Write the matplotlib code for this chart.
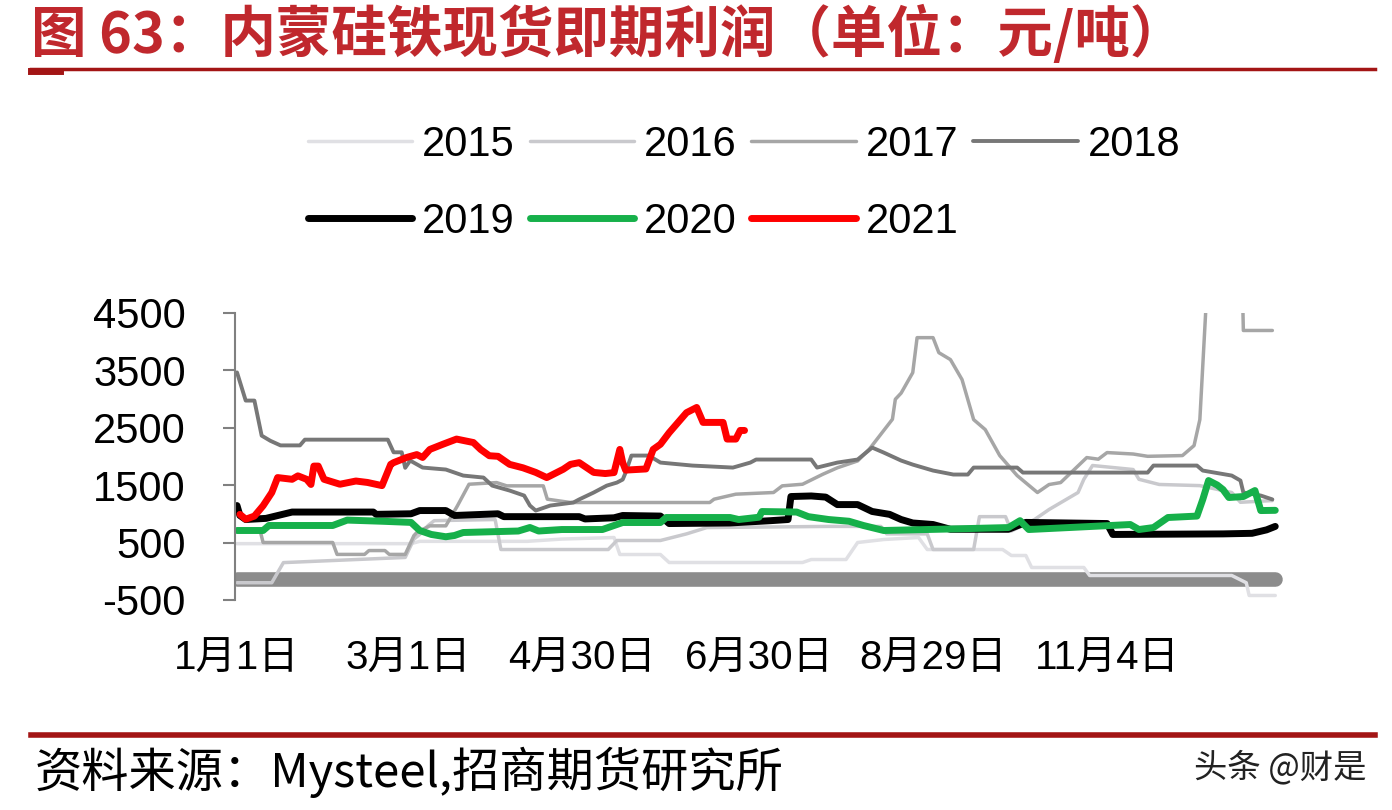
import matplotlib
matplotlib.use('Agg')
import matplotlib.pyplot as plt
from matplotlib.lines import Line2D

plt.rcParams['font.family'] = ['Liberation Sans', 'Noto Sans CJK SC', 'DejaVu Sans']
plt.rcParams['axes.unicode_minus'] = False

# day-of-year positions (0 = 1月1日) and profit values
d15 = [0, 60, 63, 100, 112, 130, 132, 146, 149, 195, 198, 210, 214, 223, 235, 238, 264, 267, 272, 274, 292, 294, 343, 348, 349, 358]
v15 = [480, 480, 520, 520, 560, 587, 291, 291, 152, 152, 204, 204, 500, 552, 587, 378, 378, 274, 274, 65, 65, -74, -74, -200, -422, -422]

d16 = [0, 12, 16, 30, 58, 61, 63, 66, 68, 89, 91, 128, 131, 146, 155, 162, 204, 222, 224, 238, 240, 254, 256, 265, 267,
       275, 280, 290, 292, 295, 309, 311, 318, 332, 343, 346, 357]
v16 = [-200, -200, 150, 180, 240, 560, 640, 800, 880, 900, 378, 378, 535, 535, 650, 760, 780, 780, 650, 650, 378, 378, 950, 950, 700,
       900, 1074, 1370, 1600, 1840, 1770, 1600, 1510, 1490, 1370, 1200, 1230]

d17 = [0, 8, 9, 33, 34.5, 44, 45.5, 51, 52.5, 58, 61, 62, 66.5, 72, 76, 80, 89.5, 93, 105.6, 107, 115, 163, 164.5, 172, 185, 188,
       195, 202, 207, 214, 218, 226, 227, 229, 233, 234.5, 240, 242, 246, 250, 254, 258, 263, 269, 276, 280, 284, 293, 297,
       300, 309, 314, 326, 330, 332, 334, 335, 346, 347, 357]
v17 = [700, 700, 500, 500, 293, 293, 360, 360, 293, 293, 620, 674, 790, 790, 1138, 1514, 1543, 1486, 1486, 1254, 1196, 1196, 1254, 1341, 1370, 1486,
       1514, 1688, 1800, 1920, 2123, 2645, 2993, 3100, 3456, 4065, 4065, 3804, 3683, 3335, 2639, 2465, 2013, 1665, 1370, 1509, 1543, 1978, 1950,
       2065, 2040, 2000, 2013, 2187, 2639, 4500, 6500, 6500, 4190, 4190]

d18 = [0, 3, 6, 8.5, 11.5, 15, 21.7, 23.4, 52, 54, 56.8, 58, 59.7, 64, 72, 78, 85, 88, 94, 99, 101, 103, 108, 116, 118, 123, 127.5,
       131, 133, 134, 136, 142, 146, 157, 171, 177, 179, 198, 200, 207, 214, 219, 223, 229, 233, 240, 247, 252, 254, 269, 271,
       314, 316, 331, 333, 343, 346, 347, 353, 357]
v18 = [3460, 2970, 2970, 2360, 2270, 2190, 2190, 2290, 2290, 2070, 2070, 1800, 1926, 1804, 1770, 1665, 1630, 1490, 1404, 1317, 1143, 1056, 1143, 1196, 1250, 1370, 1490,
       1543, 1596, 1717, 2013, 2013, 1891, 1839, 1804, 1891, 1944, 1944, 1804, 1891, 1944, 2152, 2065, 1926, 1856, 1752, 1683, 1683, 1804, 1804, 1717,
       1717, 1839, 1839, 1752, 1665, 1578, 1370, 1317, 1250]

d19 = [0, 1, 3, 10, 19, 47, 48, 60, 63, 72, 75, 90, 92, 118, 120, 130, 133, 146, 149, 170, 184, 190, 191, 198, 203, 207, 214,
       219, 225, 229, 233, 240, 246, 266, 272, 300, 302, 340, 350, 355, 358]
v19 = [1143, 970, 900, 920, 1030, 1030, 990, 1000, 1056, 1056, 970, 1000, 950, 950, 910, 930, 970, 960, 830, 840, 880, 900, 1300, 1310, 1290, 1160, 1160,
       1040, 990, 900, 840, 813, 730, 730, 850, 830, 640, 650, 660, 720, 780]

d20 = [0, 9, 11, 33, 38, 50, 60, 63, 67, 72, 75, 78, 97, 101, 104, 112, 126, 130, 133, 146, 148, 170, 173, 180, 181, 193, 197,
       204, 211, 216, 223, 250, 266, 270, 273, 308, 311, 316, 321, 331, 333, 335, 338, 340, 342, 347, 351, 353, 358]
v20 = [709, 709, 796, 796, 890, 870, 850, 709, 640, 600, 622, 674, 700, 761, 700, 726, 726, 796, 848, 848, 935, 935, 900, 940, 1039, 1030, 950,
       900, 870, 796, 709, 740, 760, 880, 726, 813, 726, 760, 935, 960, 1248, 1578, 1500, 1420, 1283, 1300, 1404, 1056, 1060]

d21 = [1, 3, 6, 9, 12, 14, 19, 21, 24, 25.5, 26.5, 28, 30, 35.5, 41, 45, 50, 53, 54, 58.5, 62, 64, 66.5, 71, 75.7, 81.5, 84, 87,
       90, 94, 98.6, 103, 106.8, 108, 112.5, 115, 118, 123, 127, 130, 132, 133, 134, 141, 143.5, 146, 149, 155, 158.5, 160.7,
       167.6, 169, 172, 173.5, 175]
v21 = [990, 905, 960, 1140, 1370, 1630, 1600, 1660, 1600, 1510, 1830, 1830, 1600, 1514, 1570, 1545, 1490, 1860, 1890, 1980, 2030, 1980, 2120, 2210, 2300, 2240, 2120, 2010,
       2000, 1860, 1800, 1720, 1630, 1660, 1775, 1860, 1890, 1720, 1700, 1717, 2120, 1890, 1760, 1780, 2120, 2210, 2410, 2760, 2850, 2590,
       2590, 2300, 2300, 2450, 2450]

# flat grey band near zero
band_d = [0, 358]
band_v = [-140, -140]

years = ['2015', '2016', '2017', '2018', '2019', '2020', '2021']
series = [(d15, v15), (d16, v16), (d17, v17), (d18, v18), (d19, v19), (d20, v20), (d21, v21)]
colors = ['#e0e0e4', '#c9c9cd', '#a6a6a6', '#777777', '#000000', '#16b04a', '#ff0000']
widths = [2.5, 2.5, 2.5, 2.8, 5, 5, 5]

xticks = [0, 59, 119, 180, 240, 300]
xlabels = ['1月1日', '3月1日', '4月30日', '6月30日', '8月29日', '11月4日']
yticks = [-500, 500, 1500, 2500, 3500, 4500]

fig = plt.figure(figsize=(13.92, 8.10), dpi=100)
fig.patch.set_facecolor('white')
ax = fig.add_axes([0.1688, 0.2593, 0.7615, 0.3547])

ax.plot(band_d, band_v, color='#8c8c8c', lw=10.5, solid_capstyle='round', zorder=1)
handles = []
for yr, (dd, vv), c, w in zip(years, series, colors, widths):
    h, = ax.plot(dd, vv, color=c, lw=w, label=yr, solid_joinstyle='round', solid_capstyle='round', zorder=2)
    handles.append(h)

ax.set_xlim(-0.7, 364.8)
ax.set_ylim(-500, 4500)
ax.set_yticks(yticks)
ax.set_xticks(xticks)
ax.set_xticklabels(xlabels)
for s in ['top', 'right', 'bottom']:
    ax.spines[s].set_visible(False)
ax.spines['left'].set_color('#808080')
ax.spines['left'].set_linewidth(1.5)
ax.tick_params(axis='y', length=8.5, width=1.5, color='#808080', pad=27, labelsize=30)
ax.tick_params(axis='x', length=0, pad=29, labelsize=29)

order = [0, 4, 1, 5, 2, 6, 3]
fig.legend([handles[i] for i in order], [years[i] for i in order], ncol=4, frameon=False,
           loc='upper left', bbox_to_anchor=(0.206, 0.872), fontsize=30,
           handlelength=2.5, handletextpad=0.25, columnspacing=0.35, labelspacing=0.9, borderpad=0)

fig.text(0.022, 0.958, '图 63：内蒙硅铁现货即期利润（单位：元/吨）', fontsize=40, fontweight='bold',
         color='#c0282d', va='center', ha='left', family=['Noto Sans CJK SC'])
fig.add_artist(Line2D([0.022, 0.988], [0.915, 0.915], color='#a31515', lw=2.5))
fig.add_artist(Line2D([0.022, 0.043], [0.912, 0.912], color='#a31515', lw=5))
fig.add_artist(Line2D([0.022, 0.988], [0.093, 0.093], color='#a31515', lw=4))
fig.text(0.025, 0.047, '资料来源：Mysteel,招商期货研究所', fontsize=34, va='center', ha='left',
         family=['Noto Sans CJK SC'])
fig.text(0.982, 0.052, '头条 @财是', fontsize=24, va='center', ha='right', color='#222222',
         family=['Noto Sans CJK SC'])

fig.savefig('out.png', dpi=100)
